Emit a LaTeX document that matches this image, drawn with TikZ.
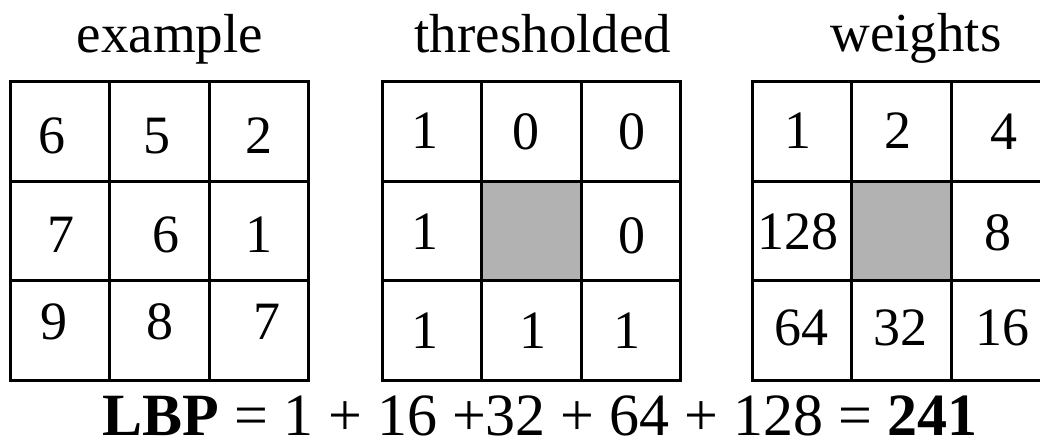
\documentclass[tikz,border=0pt]{standalone}
\usepackage{fontspec}
\setmainfont{Liberation Serif}
\begin{document}
\begin{tikzpicture}[x=1pt, y=-1pt, line width=3pt,
		cell/.style={font=\fontsize{54}{54}\selectfont, inner sep=0pt},
		heading/.style={font=\fontsize{55}{55}\selectfont, inner sep=0pt, anchor=base}]
		\useasboundingbox (0,0) rectangle (1040,441);
		\clip (0,0) rectangle (1040,441);
		\fill [black!30] (482,182) rectangle (582,280);
		\fill [black!30] (852,182) rectangle (953,280);
		\foreach \gx in {10,382,752} {
			\draw (\gx,82) rectangle (\gx+298.5,380);
			\foreach \i in {1,2} {
				\draw (\gx+\i*99.5, 82) -- (\gx+\i*99.5, 380);
				\draw (\gx, 82+\i*99.3) -- (\gx+298.5, 82+\i*99.3);
			}
		}
		\node [heading] (example) at (170,53) {example};
		\node [heading] (thresholded) at (543,53) {thresholded};
		\node [heading] (weights) at (916,52) {weights};
		\foreach \n/\x/\y/\t in {e1/52/136/6, e2/157/136/5, e3/259/136/2,
				e4/61/235/7, e5/166/235/6, e6/259/235/1,
				e7/54/322/9, e8/160/322/8, e9/267/322/7}
			\node [cell] (\n) at (\x,\y) {\t};
		\foreach \n/\x/\y/\t in {t1/425/131/1, t2/526/132/0, t3/632/132/0,
				t4/425/232/1, t6/632/236/0,
				t7/425/331/1, t8/533/331/1, t9/627/331/1}
			\node [cell] (\n) at (\x,\y) {\t};
		\foreach \n/\x/\y/\t in {w1/798/131/1, w2/898/131/2, w3/1004/132/4,
				w4/798/232/128, w6/998/233/8,
				w7/801/328/64, w8/900/328/32, w9/1002/328/16}
			\node [cell] (\n) at (\x,\y) {\t};
		\node [font=\fontsize{60}{60}\selectfont, inner sep=0pt, anchor=base] (lbp) at (540,435)
			{\textbf{LBP} = 1 + 16 +32 + 64 + 128 = \textbf{241}};
	\end{tikzpicture}
\end{document}
